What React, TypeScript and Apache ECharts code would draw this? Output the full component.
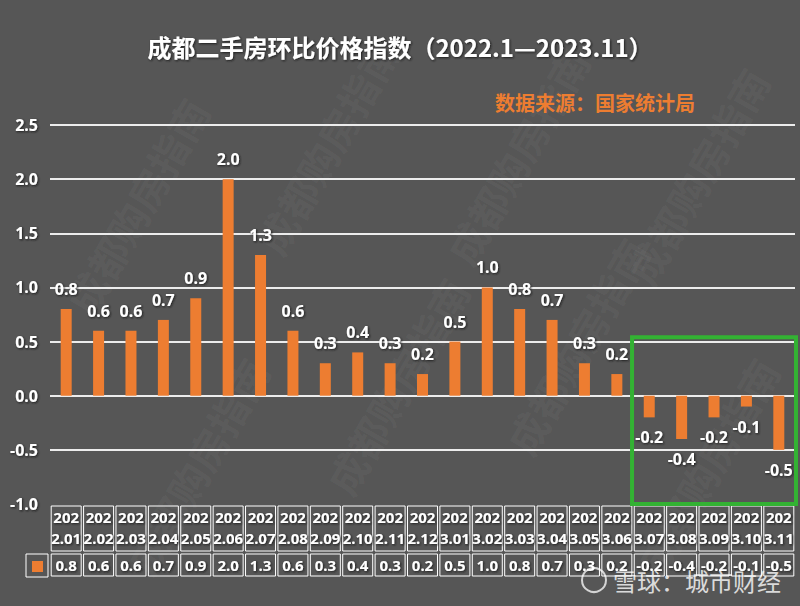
import React, { useEffect, useRef } from "react";
import * as echarts from "echarts";

const categories = [
  "2022.01", "2022.02", "2022.03", "2022.04", "2022.05", "2022.06", "2022.07", "2022.08",
  "2022.09", "2022.10", "2022.11", "2022.12", "2023.01", "2023.02", "2023.03", "2023.04",
  "2023.05", "2023.06", "2023.07", "2023.08", "2023.09", "2023.10", "2023.11",
];
const values = [
  0.8, 0.6, 0.6, 0.7, 0.9, 2.0, 1.3, 0.6, 0.3, 0.4, 0.3, 0.2, 0.5, 1.0, 0.8, 0.7, 0.3, 0.2,
  -0.2, -0.4, -0.2, -0.1, -0.5,
];
const seriesName = "环比";
const titleText = "成都二手房环比价格指数（2022.1—2023.11）";
const sourceText = "数据来源：国家统计局";
const watermarkText = "成都购房指南";
const creditText = "雪球：城市财经";
const highlightFrom = "2023.07";
const highlightTo = "2023.11";
const highlightTop = 0.55;

const BG = "#565656";
const ORANGE = "#ED7D31";
const LABEL_FONT = "'Noto Sans', 'Noto Sans CJK SC', sans-serif";
const CJK_FONT = "'Noto Sans CJK SC', sans-serif";

export default function App() {
  const ref = useRef<HTMLDivElement>(null);

  useEffect(() => {
    if (!ref.current) return;
    const chart = echarts.init(ref.current, null, { renderer: "svg" });

    const shadow = { textShadowColor: "rgba(20,20,20,0.9)", textShadowBlur: 2, textShadowOffsetX: 1, textShadowOffsetY: 1 };

    const watermarks: any[] = [];
    const wmPos = [
      [60, 300], [250, 240], [440, 250], [620, 270],
      [120, 560], [320, 480], [500, 440], [630, 560],
    ];
    wmPos.forEach((p, i) => {
      watermarks.push({
        id: "wm" + i,
        type: "text",
        x: p[0],
        y: p[1],
        rotation: Math.PI / 3,
        silent: true,
        z: -1,
        style: {
          text: watermarkText,
          fill: "rgba(255,255,255,0.045)",
          font: `bold 40px ${CJK_FONT}`,
        },
      });
    });

    const option: any = {
      animation: false,
      backgroundColor: BG,
      title: [
        {
          text: titleText,
          left: "center",
          top: 29,
          textStyle: { color: "#ffffff", fontSize: 24, fontWeight: "bold", fontFamily: CJK_FONT, ...shadow },
        },
        {
          text: sourceText,
          right: 100,
          top: 87,
          textStyle: { color: ORANGE, fontSize: 20, fontWeight: "bold", fontFamily: CJK_FONT },
        },
      ],
      legend: {
        left: 32,
        top: 561,
        padding: 0,
        itemWidth: 11,
        itemHeight: 11,
        itemGap: 0,
        icon: "rect",
        formatter: () => "",
        data: [seriesName],
        textStyle: { color: "transparent", fontSize: 1, padding: 0 },
      },
      grid: { left: 50, right: 5, top: 125, bottom: 102, containLabel: false },
      xAxis: [
        {
          type: "category",
          data: categories,
          position: "bottom",
          axisLine: { show: false, onZero: false },
          axisTick: { show: false },
          axisLabel: {
            interval: 0,
            margin: 2,
            color: "#ffffff",
            fontWeight: "bold",
            fontSize: 15,
            fontFamily: LABEL_FONT,
            lineHeight: 21,
            width: 30,
            height: 45,
            align: "center",
            verticalAlign: "top",
            borderColor: "#ffffff",
            borderWidth: 1,
            formatter: (v: string) => v.slice(0, 3) + "\n" + v.slice(3),
            ...shadow,
          },
        },
        {
          type: "category",
          data: values.map((v) => v.toFixed(1)),
          position: "bottom",
          offset: 48,
          axisLine: { show: false, onZero: false },
          axisTick: { show: false },
          axisLabel: {
            interval: 0,
            margin: 2,
            color: "#ffffff",
            fontWeight: "bold",
            fontSize: 15,
            fontFamily: LABEL_FONT,
            lineHeight: 22,
            width: 30,
            height: 22,
            align: "center",
            verticalAlign: "top",
            borderColor: "#ffffff",
            borderWidth: 1,
            ...shadow,
          },
        },
      ],
      yAxis: {
        type: "value",
        min: -1,
        max: 2.5,
        interval: 0.5,
        axisLine: { show: false },
        axisTick: { show: false },
        axisLabel: {
          margin: 12,
          color: "#ffffff",
          fontWeight: "bold",
          fontSize: 16,
          fontFamily: LABEL_FONT,
          formatter: (v: number) => v.toFixed(1),
          ...shadow,
        },
        splitLine: {
          lineStyle: {
            color: ["transparent", "#ececec", "#ececec", "#ececec", "#ececec", "#ececec", "#ececec", "#ececec"],
            width: 2,
          },
        },
      },
      series: [
        {
          name: seriesName,
          type: "bar",
          xAxisIndex: 0,
          barWidth: 11,
          itemStyle: { color: ORANGE },
          data: values.map((v) => ({
            value: v,
            label: {
              show: true,
              position: v >= 0 ? "top" : "bottom",
              distance: 12,
              color: "#ffffff",
              fontWeight: "bold",
              fontSize: 16,
              fontFamily: LABEL_FONT,
              formatter: () => v.toFixed(1),
              ...shadow,
            },
          })),
        },
      ],
      graphic: [
        ...watermarks,
        {
          id: "legendBox",
          type: "rect",
          shape: { x: 26, y: 554, width: 22, height: 23 },
          style: { fill: "none", stroke: "#ffffff", lineWidth: 1 },
          silent: true,
        },
        {
          id: "creditLogo",
          type: "circle",
          shape: { cx: 594, cy: 580, r: 12 },
          style: { fill: "none", stroke: "rgba(255,255,255,0.75)", lineWidth: 2 },
          silent: true,
          z: 10,
        },
        {
          id: "credit",
          type: "text",
          x: 613,
          y: 580,
          z: 10,
          style: {
            text: creditText,
            fill: "rgba(255,255,255,0.8)",
            font: `24px ${CJK_FONT}`,
            verticalAlign: "middle",
          },
          silent: true,
        },
      ],
    };

    chart.setOption(option);

    const c1 = chart.convertToPixel({ xAxisIndex: 0 }, highlightFrom) as number;
    const c2 = chart.convertToPixel({ xAxisIndex: 0 }, categories[categories.indexOf(highlightFrom) + 1]) as number;
    const cLast = chart.convertToPixel({ xAxisIndex: 0 }, highlightTo) as number;
    const band = c2 - c1;
    const yTop = chart.convertToPixel({ yAxisIndex: 0 }, highlightTop) as number;
    const yBot = chart.convertToPixel({ yAxisIndex: 0 }, -1) as number;
    const left = c1 - band / 2 - 1;
    const right = cLast + band / 2 + 1;
    chart.setOption({
      graphic: [
        {
          id: "greenBox",
          type: "rect",
          shape: { x: left, y: yTop + 1, width: right - left, height: yBot - yTop - 1 },
          style: { fill: "none", stroke: "#33b233", lineWidth: 4 },
          silent: true,
          z: 20,
        },
      ],
    });

    return () => chart.dispose();
  }, []);

  return (
    <div
      ref={ref}
      style={{ position: "fixed", left: 0, top: 0, width: 800, height: 606 }}
    />
  );
}
